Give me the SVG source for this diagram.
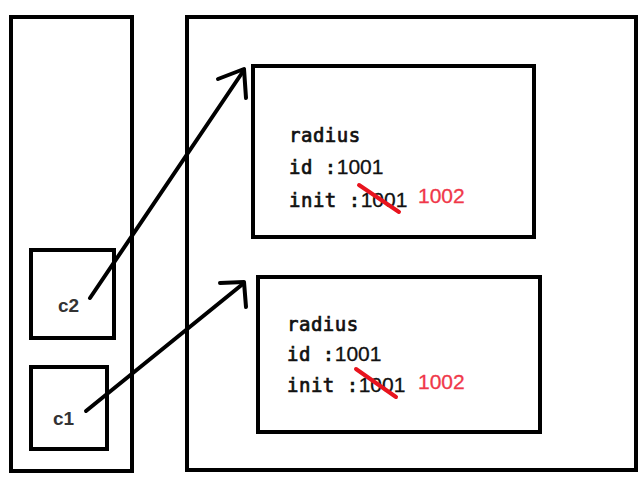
<svg xmlns="http://www.w3.org/2000/svg" width="644" height="486" viewBox="0 0 644 486">
<style>
.box{fill:none;stroke:#000;stroke-width:4}
.ln{fill:none;stroke:#000;stroke-width:4;stroke-linecap:round;stroke-linejoin:round}
.lbl{font-family:"DejaVu Sans Mono",monospace;font-size:19px;font-weight:normal;fill:#111;stroke:#111;stroke-width:0.7;letter-spacing:0.5px}
.num{font-family:"Liberation Sans",Arial,sans-serif;font-size:21px;fill:#111;stroke:#111;stroke-width:0.3}
.red{font-family:"Liberation Sans",Arial,sans-serif;font-size:21px;fill:#f0384a;stroke:#f0384a;stroke-width:0.3}
.strike{stroke:#e8141e;stroke-width:4;stroke-linecap:round}
.var{font-family:"Liberation Sans",Arial,sans-serif;font-size:19px;font-weight:bold;fill:#333}
</style>
<rect width="644" height="486" fill="#fff"/>
<g id="stack">
<rect class="box" x="11" y="17" width="121" height="454"/>
</g>
<g id="heap">
<rect class="box" x="187" y="17" width="449" height="453"/>
</g>
<g id="c2">
<rect class="box" x="31" y="250" width="83" height="88"/>
<text class="var" x="58" y="312">c2</text>
</g>
<g id="c1">
<rect class="box" x="31" y="367" width="76" height="82"/>
<text class="var" x="53" y="425">c1</text>
</g>
<g id="obj1">
<rect class="box" x="253" y="66" width="281" height="171"/>
<text class="lbl" x="289" y="142">radius</text>
<text x="289" y="174"><tspan class="lbl">id :</tspan><tspan class="num">1001</tspan></text>
<text x="289" y="207"><tspan class="lbl">init :</tspan><tspan class="num">1001</tspan></text>
<line class="strike" x1="359" y1="185" x2="399" y2="212"/>
<text class="red" x="418" y="203">1002</text>
</g>
<g id="obj2">
<rect class="box" x="258" y="277" width="282" height="155"/>
<text class="lbl" x="287" y="331">radius</text>
<text x="287" y="361"><tspan class="lbl">id :</tspan><tspan class="num">1001</tspan></text>
<text x="287" y="392"><tspan class="lbl">init :</tspan><tspan class="num">1001</tspan></text>
<line class="strike" x1="356" y1="369" x2="396" y2="397"/>
<text class="red" x="418" y="389">1002</text>
</g>
<g id="connectors">
<path class="ln" d="M90 298 L244 70"/>
<path class="ln" d="M218 79 L244 69 L246 98"/>
<path class="ln" d="M86 411 L244 283"/>
<path class="ln" d="M220 283 L244 282 L246 307"/>
</g>
</svg>
